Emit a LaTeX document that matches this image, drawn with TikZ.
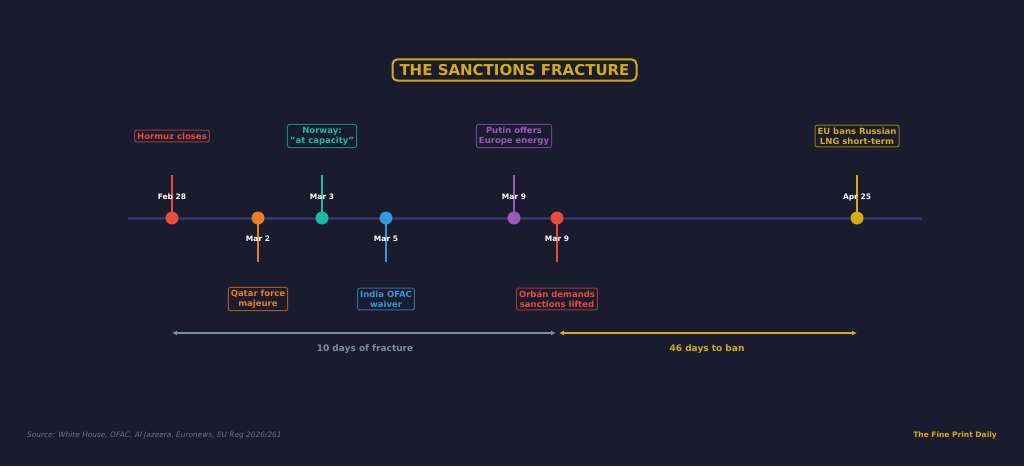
\documentclass[tikz,border=0pt]{standalone}
\usepackage{fontspec}
\setmainfont{DejaVu Sans}
\usetikzlibrary{arrows.meta}
\definecolor{bg}{HTML}{1A1B2E}
\definecolor{axis}{HTML}{2E3562}
\definecolor{cred}{HTML}{E74C3C}
\definecolor{corange}{HTML}{E67E22}
\definecolor{cteal}{HTML}{1ABC9C}
\definecolor{cblue}{HTML}{3498DB}
\definecolor{cpurple}{HTML}{9B59B6}
\definecolor{cgold}{HTML}{D4AC0D}
\definecolor{cgray}{HTML}{7F8C9D}
\definecolor{csrc}{HTML}{6C7183}
\tikzset{
  dot/.style={circle,fill=#1,minimum size=13pt,inner sep=0pt},
  stem/.style={draw=#1,line width=2pt},
  datelbl/.style={text=white,font=\bfseries\fontsize{7.5}{9}\selectfont,inner sep=0pt},
  evbox/.style={draw=#1!65!bg,fill=bg,text=#1,rounded corners=2pt,line width=1pt,
    font=\bfseries\fontsize{8.5}{10}\selectfont,align=center,inner xsep=2.5pt,inner ysep=2.5pt},
  span/.style={draw=#1,line width=1.5pt,{Latex[length=5pt,width=5pt]}-{Latex[length=5pt,width=5pt]}},
  spanlbl/.style={text=#1,font=\bfseries\fontsize{9}{11}\selectfont}
}
\begin{document}
\begin{tikzpicture}[x=1pt,y=-1pt]
\fill[bg] (0,0) rectangle (1024,466);
\useasboundingbox (0,0) rectangle (1024,466);
% title
\node[draw=cgold,line width=2pt,rounded corners=5pt,text=cgold,font=\bfseries\fontsize{15}{18}\selectfont,inner xsep=7pt,inner ysep=5pt] (title) at (514.5,70) {THE SANCTIONS FRACTURE};
% axis
\coordinate (axL) at (128,218);
\coordinate (axR) at (922,218);
\draw[axis,line width=3pt] (axL) -- (axR);
% stems ends
\coordinate (s1) at (172,175);
\coordinate (s2) at (258,262);
\coordinate (s3) at (322,175);
\coordinate (s4) at (386,262);
\coordinate (s5) at (514,175);
\coordinate (s6) at (557,262);
\coordinate (s7) at (857,175);
% dots (positions)
\coordinate (p1) at (172,218);
\coordinate (p2) at (258,218);
\coordinate (p3) at (322,218);
\coordinate (p4) at (386,218);
\coordinate (p5) at (514,218);
\coordinate (p6) at (557,218);
\coordinate (p7) at (857,218);
\draw[stem=cred] (p1) -- (s1);
\draw[stem=corange] (p2) -- (s2);
\draw[stem=cteal] (p3) -- (s3);
\draw[stem=cblue] (p4) -- (s4);
\draw[stem=cpurple] (p5) -- (s5);
\draw[stem=cred] (p6) -- (s6);
\draw[stem=cgold] (p7) -- (s7);
\node[dot=cred] (d1) at (p1) {};
\node[dot=corange] (d2) at (p2) {};
\node[dot=cteal] (d3) at (p3) {};
\node[dot=cblue] (d4) at (p4) {};
\node[dot=cpurple] (d5) at (p5) {};
\node[dot=cred] (d6) at (p6) {};
\node[dot=cgold] (d7) at (p7) {};
% date labels
\node[datelbl] (l1) at (172,197) {Feb 28};
\node[datelbl] (l2) at (258,239) {Mar 2};
\node[datelbl] (l3) at (322,197) {Mar 3};
\node[datelbl] (l4) at (386,239) {Mar 5};
\node[datelbl] (l5) at (514,197) {Mar 9};
\node[datelbl] (l6) at (557,239) {Mar 9};
\node[datelbl] (l7) at (857,197) {Apr 25};
% event boxes
\node[evbox=cred] (b1) at (172,136) {Hormuz closes};
\node[evbox=corange] (b2) at (258,299) {Qatar force\\majeure};
\node[evbox=cteal] (b3) at (322,136) {Norway:\\"at capacity"};
\node[evbox=cblue] (b4) at (386,299) {India OFAC\\waiver};
\node[evbox=cpurple] (b5) at (514,136) {Putin offers\\Europe energy};
\node[evbox=cred] (b6) at (557,299) {Orbán demands\\sanctions lifted};
\node[evbox=cgold] (b7) at (857,136) {EU bans Russian\\LNG short-term};
% spans
\coordinate (a1) at (172,333);
\coordinate (a2) at (556,333);
\coordinate (a3) at (559,333);
\coordinate (a4) at (857,333);
\draw[span=cgray] (a1) -- (a2);
\draw[span=cgold] (a3) -- (a4);
\node[spanlbl=cgray] (t1) at (365,349) {10 days of fracture};
\node[spanlbl=cgold] (t2) at (707,349) {46 days to ban};
% footer
\node[anchor=west,text=csrc,font=\itshape\fontsize{7.4}{9}\selectfont,inner sep=0pt] (src) at (27,435) {Source: White House, OFAC, Al Jazeera, Euronews, EU Reg 2026/261};
\node[anchor=east,text=cgold,font=\bfseries\fontsize{7.5}{9}\selectfont,inner sep=0pt] (brand) at (997,435) {The Fine Print Daily};
\end{tikzpicture}
\end{document}
